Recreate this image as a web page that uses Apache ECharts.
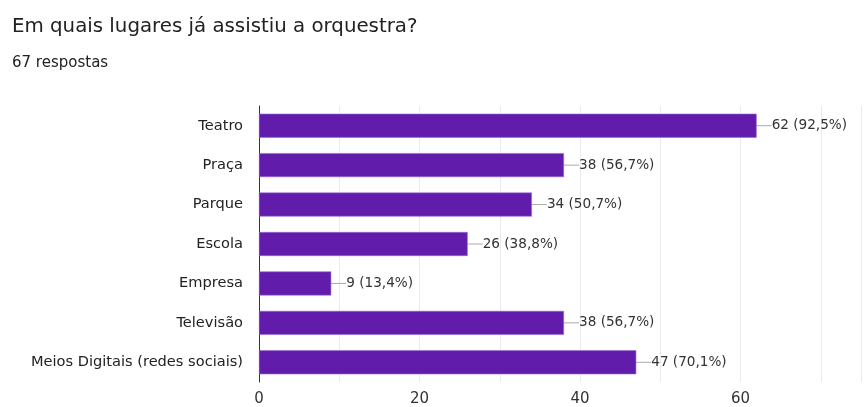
<!DOCTYPE html>
<html><head><meta charset="utf-8">
<script src="https://cdn.jsdelivr.net/npm/echarts@6/dist/echarts.min.js"></script>
<style>html,body{margin:0;padding:0;background:#fff}#c{width:864px;height:407px}</style>
</head><body><div id="c"></div>
<script>
const categories = ["Teatro","Praça","Parque","Escola","Empresa","Televisão","Meios Digitais (redes sociais)"];
const values = [62,38,34,26,9,38,47];
const percents = ["92,5%","56,7%","50,7%","38,8%","13,4%","56,7%","70,1%"];
const total = 67;
const ticks = [0,20,40,60];
const FF = 'DejaVu Sans';

const chart = echarts.init(document.getElementById('c'));
chart.setOption({
  animation:false,
  title:[
    {text:'Em quais lugares já assistiu a orquestra?',left:7,top:12,textStyle:{fontFamily:FF,fontSize:19.8,fontWeight:'normal',color:'#222'}},
    {text:total+' respostas',left:7,top:51,textStyle:{fontFamily:FF,fontSize:15,fontWeight:'normal',color:'#222'}}
  ],
  grid:{left:259,right:2,top:106,bottom:25,containLabel:false},
  xAxis:{type:'value',min:0,max:75,interval:10,
    axisLine:{show:false},axisTick:{show:false},
    axisLabel:{fontFamily:FF,fontSize:15,color:'#333',margin:10,
      formatter:v=>ticks.includes(v)?String(v):''},
    splitLine:{lineStyle:{color:'#ebebeb',width:1}}},
  yAxis:{type:'category',data:categories,inverse:true,
    axisLine:{show:true,lineStyle:{color:'#333',width:1}},axisTick:{show:false},
    axisLabel:{fontFamily:FF,fontSize:14.6,color:'#222',margin:16}},
  series:[{type:'bar',data:values,barWidth:24,
    itemStyle:{color:'#611cab',borderColor:'#9a6ad6',borderWidth:0.6},
    label:{show:true,position:'right',distance:15,fontFamily:FF,fontSize:13.6,color:'#333',
      formatter:p=>p.value+' ('+percents[p.dataIndex]+')'},
    labelLine:{show:true,lineStyle:{color:'#aaa',width:1}},
    labelLayout:{dx:0}
  }]
});
</script></body></html>
